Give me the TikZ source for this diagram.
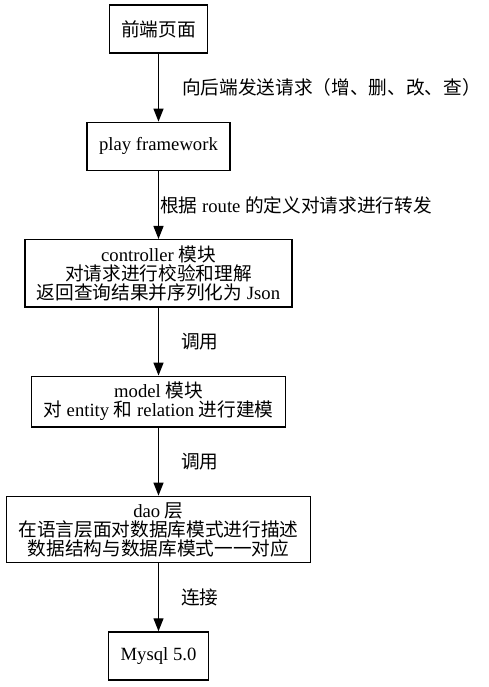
\documentclass[tikz,border=0pt]{standalone}
\usepackage{fontspec}
\setmainfont{Liberation Serif}
\newfontfamily\cjk{Noto Sans CJK SC}
\usetikzlibrary{positioning,arrows.meta}
\newcommand{\zh}[1]{{\cjk #1}}

\begin{document}
\begin{tikzpicture}[x=1pt,y=1pt,
    font=\fontsize{18.67}{19}\selectfont,
    layer/.style={draw,line width=1.3pt,align=center,inner xsep=12pt,inner ysep=6pt,minimum height=48pt},
    call/.style={-{Triangle[length=13pt,width=10pt]},line width=1.3pt},
    lbl/.style={midway,anchor=west,inner sep=0pt},
    node distance=68pt]
    \useasboundingbox (0,0) rectangle (489,-687);
    \node[layer] (front) at (158.5,-29) {\zh{前端页面}};
    \node[layer,below=of front] (play) {play framework};
    \node[layer,below=of play] (ctrl) {controller \zh{模块}\\\zh{对请求进行校验和理解}\\\zh{返回查询结果并序列化为} Json};
    \node[layer,below=of ctrl] (model) {model \zh{模块}\\\zh{对} entity \zh{和} relation \zh{进行建模}};
    \node[layer,below=of model] (dao) {dao \zh{层}\\\zh{在语言层面对数据库模式进行描述}\\\zh{数据结构与数据库模式一一对应}};
    \node[layer,below=of dao] (mysql) {Mysql 5.0};
    \draw[call] (front) -- node[lbl,xshift=23pt] {\zh{向后端发送请求（增、删、改、查）}} (play);
    \draw[call] (play) -- node[lbl,xshift=1pt] {\zh{根据} route \zh{的定义对请求进行转发}} (ctrl);
    \draw[call] (ctrl) -- node[lbl,xshift=22pt] {\zh{调用}} (model);
    \draw[call] (model) -- node[lbl,xshift=22pt] {\zh{调用}} (dao);
    \draw[call] (dao) -- node[lbl,xshift=22pt] {\zh{连接}} (mysql);
\end{tikzpicture}
\end{document}
